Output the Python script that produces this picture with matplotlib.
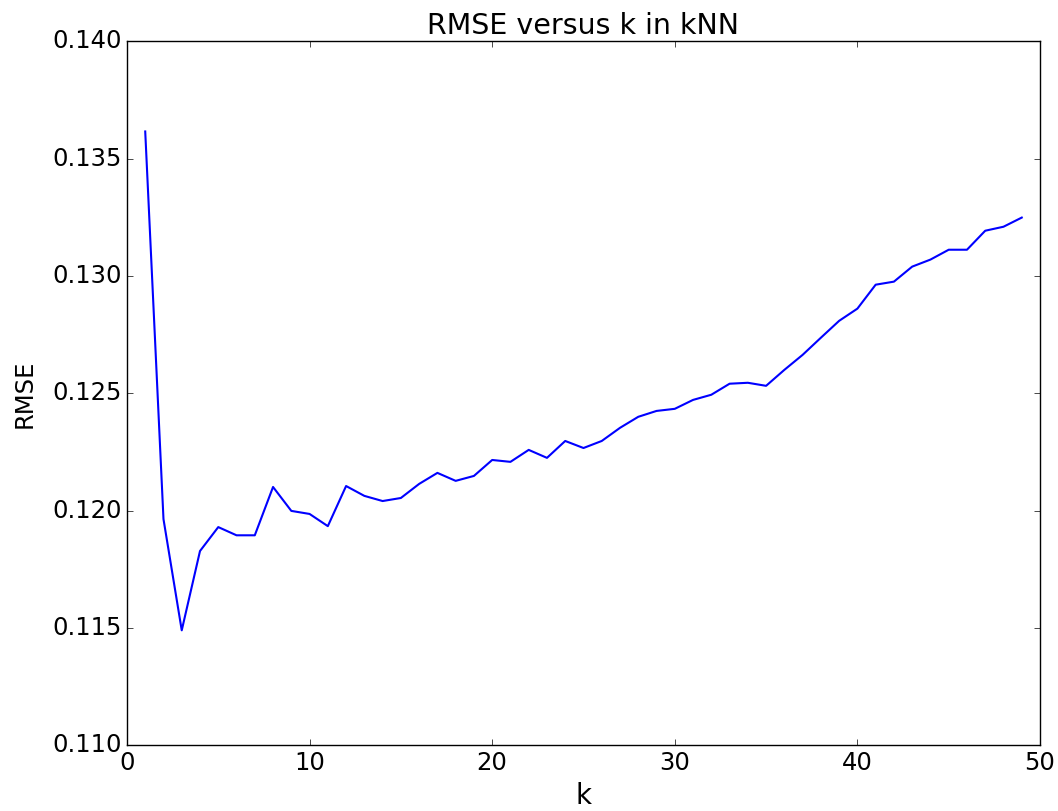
import matplotlib
matplotlib.use("Agg")
import matplotlib.pyplot as plt

plt.style.use("classic")
plt.rcParams.update({
    "font.family": "DejaVu Sans",
    "font.size": 17.5,
    "figure.facecolor": "white",
    "savefig.facecolor": "white",
})

# k values and the RMSE
k_values = list(range(1, 50))
rmse = [
    0.13616, 0.11964, 0.11490, 0.11828, 0.11930, 0.11895, 0.11895, 0.12101,
    0.11999, 0.11986, 0.11934, 0.12105, 0.12063, 0.12041, 0.12054, 0.12114,
    0.12161, 0.12127, 0.12148, 0.12216, 0.12208, 0.12259, 0.12225, 0.12297,
    0.12267, 0.12297, 0.12353, 0.12400, 0.12425, 0.12434, 0.12472, 0.12494,
    0.12541, 0.12545, 0.12532, 0.12600, 0.12664, 0.12737, 0.12809, 0.12861,
    0.12963, 0.12976, 0.13040, 0.13070, 0.13112, 0.13112, 0.13193, 0.13210,
    0.13249,
]

fig = plt.figure(figsize=(10.58, 8.11), dpi=100)
ax = fig.add_axes([0.120, 0.081, 0.863, 0.868])
ax.plot(k_values, rmse, color="b", linewidth=1.5)

ax.set_xlim(0, 50)
ax.set_ylim(0.110, 0.140)
ax.set_yticks([0.110, 0.115, 0.120, 0.125, 0.130, 0.135, 0.140])
ax.set_yticklabels(["0.110", "0.115", "0.120", "0.125", "0.130", "0.135", "0.140"])
ax.tick_params(labelsize=17.5)
ax.set_title("RMSE versus k in kNN", fontsize=20.5)
ax.set_xlabel("k", fontsize=20)
ax.set_ylabel("RMSE", fontsize=17.5, labelpad=11)

fig.savefig("out.png", dpi=100)
